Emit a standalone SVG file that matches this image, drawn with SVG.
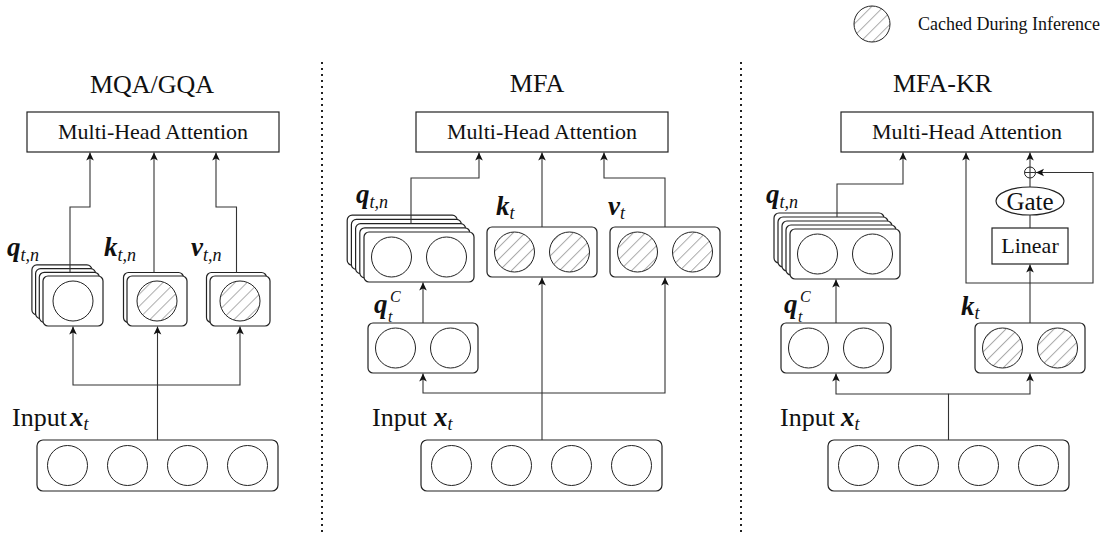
<svg xmlns="http://www.w3.org/2000/svg" width="1107" height="535" viewBox="0 0 1107 535">
<defs>
<pattern id="hatch" patternUnits="userSpaceOnUse" width="8.5" height="8.5" patternTransform="rotate(45)">
<rect width="8.5" height="8.5" fill="#fff"/>
<line x1="0" y1="0" x2="0" y2="8.5" stroke="#acacac" stroke-width="2"/>
</pattern>
<marker id="arr" viewBox="-9 -5 10 10" refX="0" refY="0" markerWidth="10" markerHeight="10" markerUnits="userSpaceOnUse" orient="auto">
<path d="M0,0 L-8,-3.8 L-6,0 L-8,3.8 Z" fill="#111"/>
</marker>
<style>
.box{fill:#fff;stroke:#222;stroke-width:1.2}
.c{fill:#fff;stroke:#222;stroke-width:1}
.h{fill:url(#hatch);stroke:#222;stroke-width:1}
.ln{fill:none;stroke:#333;stroke-width:1.1}
.ar{fill:none;stroke:#333;stroke-width:1.1;marker-end:url(#arr)}
.sep{stroke:#222;stroke-width:2;stroke-dasharray:2 4}
.t{font-family:"Liberation Serif","Times New Roman",serif;fill:#111}
.title{font-size:26px;text-anchor:middle}
.mha{font-size:22px;text-anchor:middle}
.inp{font-size:26px}
.m{font-family:"Liberation Serif","Times New Roman",serif;font-style:italic;font-weight:bold;font-size:27px;fill:#111}
.s{font-family:"Liberation Serif","Times New Roman",serif;font-style:italic;font-weight:normal;font-size:18px;fill:#111}
.ss{font-family:"Liberation Serif","Times New Roman",serif;font-style:italic;font-weight:normal;font-size:16px;fill:#111}
</style>
</defs>

<g id="separators">
<line class="sep" x1="322" y1="62" x2="322" y2="535"/>
<line class="sep" x1="741" y1="62" x2="741" y2="535"/>
</g>

<g id="legend">
<circle class="h" cx="872" cy="24" r="18"/>
<text class="t" x="918" y="30" font-size="18">Cached During Inference</text>
</g>

<!-- Panel 1 -->
<g id="title-mqa"><text class="t title" x="152" y="93">MQA/GQA</text></g>
<g id="mha-1"><rect class="box" x="27" y="112" width="252" height="40"/><text class="t mha" x="153" y="139">Multi-Head Attention</text></g>
<g id="q-1">
<rect class="box" x="31.9" y="264.9" width="60" height="50" rx="5"/>
<rect class="box" x="35.6" y="268.6" width="60" height="50" rx="5"/>
<rect class="box" x="39.3" y="272.3" width="60" height="50" rx="5"/>
<rect class="box" x="43" y="276" width="60" height="50" rx="5"/>
<circle class="c" cx="73" cy="301" r="20"/>
<text class="m" x="7" y="256">q<tspan class="s" dy="5">t,n</tspan></text>
</g>
<g id="k-1">
<rect class="box" x="123.5" y="272.5" width="60" height="50" rx="5"/>
<rect class="box" x="127" y="276" width="60" height="50" rx="5"/>
<circle class="h" cx="157" cy="301" r="20"/>
<text class="m" x="104" y="256">k<tspan class="s" dy="5">t,n</tspan></text>
</g>
<g id="v-1">
<rect class="box" x="206.5" y="272.5" width="60" height="50" rx="5"/>
<rect class="box" x="210" y="276" width="60" height="50" rx="5"/>
<circle class="h" cx="240" cy="301" r="20"/>
<text class="m" x="191" y="256">v<tspan class="s" dy="5">t,n</tspan></text>
</g>
<g id="input-1">
<rect class="box" x="37" y="440" width="241" height="51" rx="6"/>
<circle class="c" cx="67.5" cy="465.5" r="20"/>
<circle class="c" cx="127.5" cy="465.5" r="20"/>
<circle class="c" cx="187.5" cy="465.5" r="20"/>
<circle class="c" cx="247.5" cy="465.5" r="20"/>
<text class="t inp" x="12" y="426">Input</text>
<text class="m" x="70" y="426">x<tspan class="s" dy="4">t</tspan></text>
</g>

<!-- Panel 2 -->
<g id="title-mfa"><text class="t title" x="537" y="92">MFA</text></g>
<g id="mha-2"><rect class="box" x="416" y="112" width="252" height="40"/><text class="t mha" x="542" y="139">Multi-Head Attention</text></g>
<g id="q-2">
<rect class="box" x="347.2" y="215.2" width="110" height="50" rx="5"/>
<rect class="box" x="351.4" y="219.4" width="110" height="50" rx="5"/>
<rect class="box" x="355.6" y="223.6" width="110" height="50" rx="5"/>
<rect class="box" x="359.8" y="227.8" width="110" height="50" rx="5"/>
<rect class="box" x="364" y="232" width="110" height="50" rx="5"/>
<circle class="c" cx="391.5" cy="257" r="20"/>
<circle class="c" cx="446.5" cy="257" r="20"/>
<text class="m" x="356" y="203">q<tspan class="s" dy="5">t,n</tspan></text>
</g>
<g id="k-2">
<rect class="box" x="487" y="227" width="110" height="50" rx="5"/>
<circle class="h" cx="514.5" cy="252" r="20"/>
<circle class="h" cx="569.5" cy="252" r="20"/>
<text class="m" x="496" y="215">k<tspan class="s" dy="4">t</tspan></text>
</g>
<g id="v-2">
<rect class="box" x="610" y="227" width="110" height="50" rx="5"/>
<circle class="h" cx="637.5" cy="252" r="20"/>
<circle class="h" cx="692.5" cy="252" r="20"/>
<text class="m" x="608" y="215">v<tspan class="s" dy="4">t</tspan></text>
</g>
<g id="qc-2">
<rect class="box" x="368" y="323" width="110" height="50" rx="5"/>
<circle class="c" cx="395.5" cy="348" r="20"/>
<circle class="c" cx="450.5" cy="348" r="20"/>
<text class="m" x="374" y="313">q</text>
<text class="ss" x="390" y="302">C</text>
<text class="ss" x="388" y="322">t</text>
</g>
<g id="input-2">
<rect class="box" x="421" y="440" width="241" height="51" rx="6"/>
<circle class="c" cx="451.5" cy="465.5" r="20"/>
<circle class="c" cx="511.5" cy="465.5" r="20"/>
<circle class="c" cx="571.5" cy="465.5" r="20"/>
<circle class="c" cx="631.5" cy="465.5" r="20"/>
<text class="t inp" x="372" y="426">Input</text>
<text class="m" x="434" y="426">x<tspan class="s" dy="4">t</tspan></text>
</g>

<!-- Panel 3 -->
<g id="title-mfakr"><text class="t title" x="942.5" y="92">MFA-KR</text></g>
<g id="mha-3"><rect class="box" x="841" y="112" width="252" height="40"/><text class="t mha" x="967" y="139">Multi-Head Attention</text></g>
<g id="q-3">
<rect class="box" x="774" y="213" width="110" height="50" rx="5"/>
<rect class="box" x="778" y="217" width="110" height="50" rx="5"/>
<rect class="box" x="782" y="221" width="110" height="50" rx="5"/>
<rect class="box" x="786" y="225" width="110" height="50" rx="5"/>
<rect class="box" x="790" y="229" width="110" height="50" rx="5"/>
<circle class="c" cx="817.5" cy="254" r="20"/>
<circle class="c" cx="872.5" cy="254" r="20"/>
<text class="m" x="766" y="203">q<tspan class="s" dy="5">t,n</tspan></text>
</g>
<g id="qc-3">
<rect class="box" x="781" y="323" width="110" height="50" rx="5"/>
<circle class="c" cx="808.5" cy="348" r="20"/>
<circle class="c" cx="863.5" cy="348" r="20"/>
<text class="m" x="784" y="313">q</text>
<text class="ss" x="800" y="302">C</text>
<text class="ss" x="798" y="322">t</text>
</g>
<g id="k-3">
<rect class="box" x="975" y="323" width="110" height="50" rx="5"/>
<circle class="h" cx="1002.5" cy="348" r="20"/>
<circle class="h" cx="1057.5" cy="348" r="20"/>
<text class="m" x="961" y="315">k<tspan class="s" dy="4">t</tspan></text>
</g>
<g id="linear-3">
<rect class="box" x="992" y="228" width="76" height="36"/>
<text class="t" x="1030" y="253" font-size="22" text-anchor="middle">Linear</text>
</g>
<g id="gate-3">
<ellipse class="box" cx="1030" cy="201" rx="34" ry="14"/>
<text class="t" x="1030" y="209.5" font-size="25" text-anchor="middle">Gate</text>
</g>
<g id="oplus-3">
<circle class="c" cx="1030" cy="172.5" r="5.5"/>
<path class="ln" d="M1024.5,172.5 H1035.5 M1030,167 V178"/>
</g>
<g id="input-3">
<rect class="box" x="828" y="440" width="241" height="51" rx="6"/>
<circle class="c" cx="858.5" cy="465.5" r="20"/>
<circle class="c" cx="918.5" cy="465.5" r="20"/>
<circle class="c" cx="978.5" cy="465.5" r="20"/>
<circle class="c" cx="1038.5" cy="465.5" r="20"/>
<text class="t inp" x="780" y="426">Input</text>
<text class="m" x="841" y="426">x<tspan class="s" dy="4">t</tspan></text>
</g>

<g id="connectors">
<!-- panel 1 -->
<path class="ar" d="M157.5,440 V326.5"/>
<path class="ar" d="M157.5,385 H73 V326.5"/>
<path class="ar" d="M157.5,385 H240 V326.5"/>
<path class="ar" d="M70,272 V207 H90 V152.5"/>
<path class="ar" d="M154,272.5 V152.5"/>
<path class="ar" d="M236.5,272.5 V207 H216 V152.5"/>
<!-- panel 2 -->
<path class="ar" d="M542,440 V277.5"/>
<path class="ar" d="M542,393 H423 V373.5"/>
<path class="ar" d="M542,393 H665 V277.5"/>
<path class="ar" d="M423,323 V282.5"/>
<path class="ar" d="M411,223.6 V178 H479 V152.5"/>
<path class="ar" d="M542,227 V152.5"/>
<path class="ar" d="M665,227 V178 H604 V152.5"/>
<!-- panel 3 -->
<path class="ar" d="M948.5,440 V394 H836 V373.5"/>
<path class="ar" d="M948.5,394 H1030 V373.5"/>
<path class="ar" d="M836,323 V279.5"/>
<path class="ar" d="M837,217 V184 H903 V152.5"/>
<path class="ar" d="M1030,323 V264.5"/>
<path class="ar" d="M1030,283 H966 V152.5"/>
<path class="ar" d="M1030,283 H1093 V172.5 H1036"/>
<path class="ln" d="M1030,228 V215 M1030,187 V178"/>
<path class="ar" d="M1030,167 V152.5"/>
</g>
</svg>
